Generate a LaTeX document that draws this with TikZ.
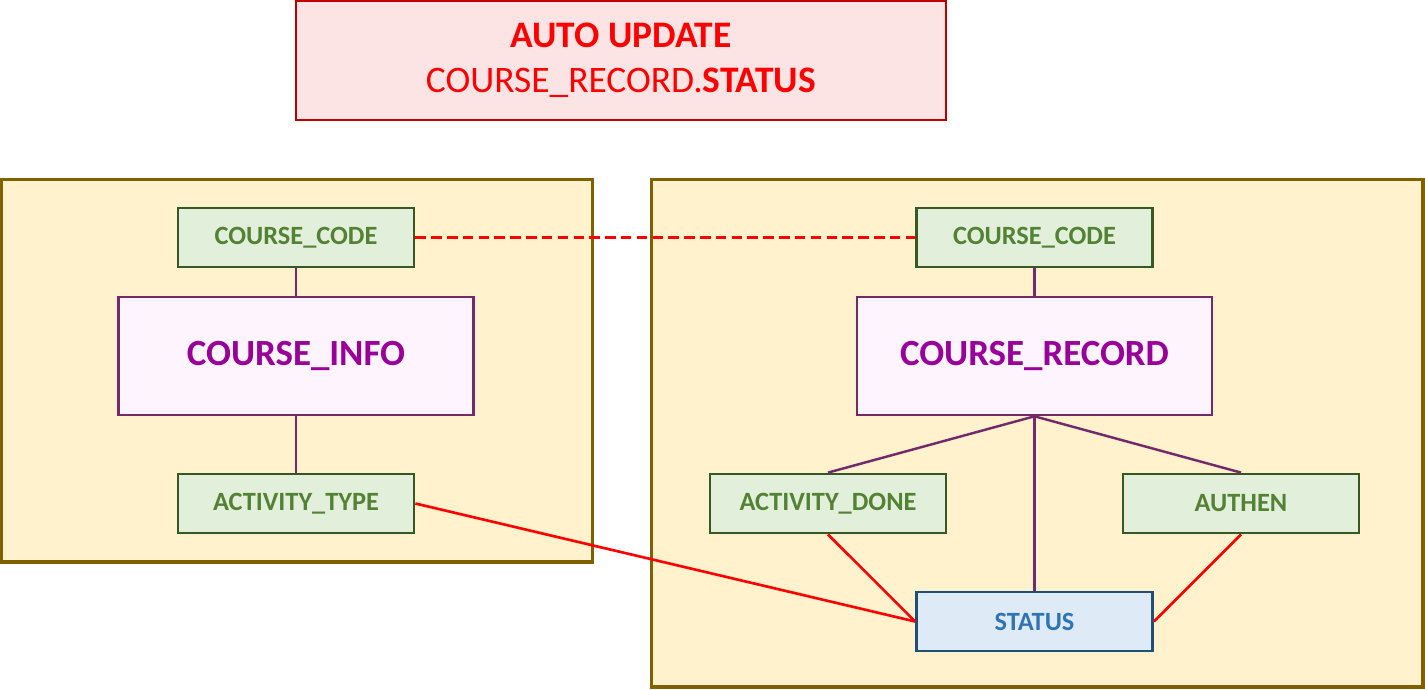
\documentclass[tikz,border=0pt]{standalone}
\usepackage{fontspec}
\setmainfont{Carlito}
\usetikzlibrary{positioning}
\definecolor{noteRed}{RGB}{255,0,0}
\definecolor{noteLine}{RGB}{192,0,0}
\definecolor{noteFill}{RGB}{253,228,228}
\definecolor{tblFill}{RGB}{255,242,204}
\definecolor{tblLine}{RGB}{128,96,0}
\definecolor{attrFill}{RGB}{226,239,218}
\definecolor{attrLine}{RGB}{56,87,35}
\definecolor{attrText}{RGB}{84,130,53}
\definecolor{entFill}{RGB}{253,244,253}
\definecolor{entLine}{RGB}{114,42,108}
\definecolor{entText}{RGB}{153,0,153}
\definecolor{keyFill}{RGB}{222,235,247}
\definecolor{keyLine}{RGB}{31,78,121}
\definecolor{keyText}{RGB}{46,117,182}

\begin{document}
\begin{tikzpicture}[x=0.02cm, y=-0.02cm,
    table/.style={draw=tblLine, fill=tblFill, line width=1.8pt},
    attr/.style={draw=attrLine, fill=attrFill, line width=1.6pt, text=attrText,
      font=\fontsize{15}{17}\selectfont\bfseries, minimum width=4.72cm, minimum height=1.18cm, inner sep=0pt},
    entity/.style={draw=entLine, fill=entFill, line width=1.5pt, text=entText,
      font=\fontsize{21}{24}\selectfont\bfseries, minimum width=7.1cm, minimum height=2.36cm, inner sep=0pt},
    statusbox/.style={attr, draw=keyLine, fill=keyFill, text=keyText},
    link/.style={draw=entLine, line width=1.4pt},
    rule/.style={draw=noteRed, line width=1.5pt}]
    \useasboundingbox (0,0) rectangle (1425,689);
    % Note
    \node[draw=noteLine, fill=noteFill, line width=1.5pt, minimum width=13cm, minimum height=2.38cm,
      text=noteRed, align=center, font=\fontsize{21.3}{25.5}\selectfont] (note) at (621,60.5)
      {\textbf{AUTO UPDATE}\\COURSE\_RECORD.\textbf{STATUS}};
    % Tables
    \draw[table] (1.5,179.5) rectangle (592.5,562);
    \draw[table] (651.5,179.5) rectangle (1423,687);
    % Left table
    \node[attr] (infoCode) at (296,237.5) {COURSE\_CODE};
    \node[entity] (info) at (296,356) {COURSE\_INFO};
    \node[attr] (actType) at (296,503.5) {ACTIVITY\_TYPE};
    % Right table
    \node[attr] (recCode) at (1034.5,237.5) {COURSE\_CODE};
    \node[entity] (record) at (1034.5,356) {COURSE\_RECORD};
    \node[attr] (actDone) at (828,503.5) {ACTIVITY\_DONE};
    \node[attr] (authen) at (1241,503.5) {AUTHEN};
    \node[statusbox] (status) at (1034.5,621.5) {STATUS};
    % Links
    \draw[link] (infoCode) -- (info);
    \draw[link] (info) -- (actType);
    \draw[link] (recCode) -- (record);
    \draw[link] (record.south) -- (actDone.north);
    \draw[link] (record.south) -- (authen.north);
    \draw[link] (record) -- (status);
    % Rules
    \draw[rule, dashed, dash pattern=on 6pt off 3pt] (infoCode) -- (recCode);
    \draw[rule] (actType.east) -- (status.west);
    \draw[rule] (actDone.south) -- (status.west);
    \draw[rule] (authen.south) -- (status.east);
\end{tikzpicture}
\end{document}
